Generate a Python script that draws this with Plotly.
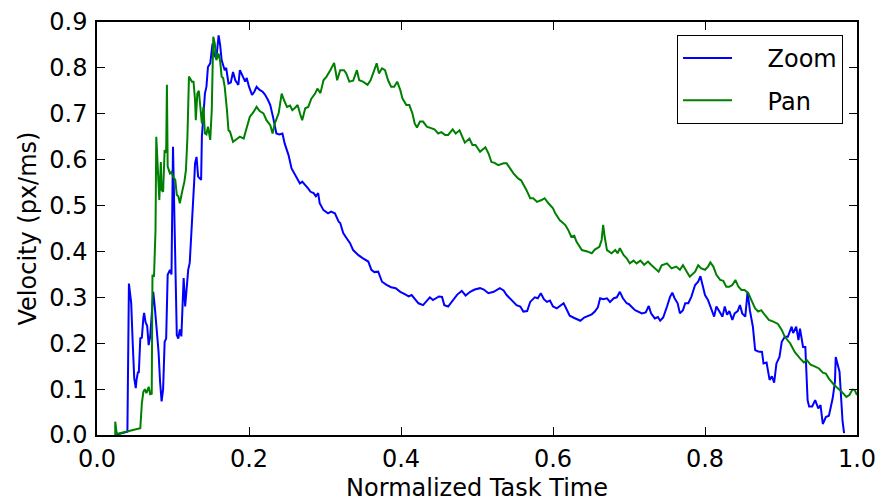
import plotly.graph_objects as go

# Zoom interaction: normalized task time vs. pointer velocity
zoom_time = [
    0.024, 0.040, 0.042, 0.045, 0.047, 0.049, 0.051, 0.052, 0.054, 0.055,
    0.057, 0.059, 0.061, 0.062, 0.064, 0.066, 0.068, 0.070, 0.072, 0.074,
    0.076, 0.079, 0.081, 0.083, 0.085, 0.087, 0.089, 0.091, 0.093, 0.096,
    0.098, 0.100, 0.101, 0.103, 0.105, 0.107, 0.109, 0.111, 0.114, 0.116,
    0.118, 0.120, 0.122, 0.125, 0.127, 0.128, 0.129, 0.131, 0.133, 0.137,
    0.138, 0.142, 0.144, 0.146, 0.149, 0.152, 0.154, 0.157, 0.160, 0.162,
    0.164, 0.166, 0.168, 0.170, 0.173, 0.176, 0.179, 0.182, 0.186, 0.188,
    0.191, 0.195, 0.197, 0.200, 0.204, 0.207, 0.210, 0.214, 0.218, 0.221,
    0.225, 0.228, 0.232, 0.236, 0.240, 0.244, 0.247, 0.252, 0.256, 0.260,
    0.263, 0.267, 0.270, 0.274, 0.278, 0.281, 0.285, 0.288, 0.291, 0.293,
    0.298, 0.304, 0.308, 0.313, 0.318, 0.320, 0.324, 0.328, 0.333, 0.337,
    0.344, 0.350, 0.357, 0.361, 0.365, 0.370, 0.375, 0.381, 0.387, 0.393,
    0.399, 0.405, 0.410, 0.414, 0.418, 0.423, 0.429, 0.434, 0.438, 0.442,
    0.447, 0.450, 0.454, 0.457, 0.462, 0.469, 0.474, 0.480, 0.485, 0.491,
    0.497, 0.504, 0.509, 0.515, 0.522, 0.530, 0.535, 0.539, 0.546, 0.552,
    0.557, 0.561, 0.566, 0.570, 0.576, 0.580, 0.584, 0.588, 0.592, 0.596,
    0.600, 0.605, 0.614, 0.618, 0.622, 0.628, 0.636, 0.641, 0.646, 0.651,
    0.655, 0.659, 0.662, 0.666, 0.671, 0.675, 0.680, 0.684, 0.688, 0.692,
    0.697, 0.700, 0.703, 0.708, 0.717, 0.722, 0.726, 0.729, 0.734, 0.738,
    0.741, 0.745, 0.750, 0.754, 0.757, 0.760, 0.764, 0.767, 0.771, 0.774,
    0.778, 0.782, 0.787, 0.791, 0.794, 0.797, 0.800, 0.804, 0.809, 0.812,
    0.815, 0.819, 0.823, 0.826, 0.829, 0.832, 0.836, 0.839, 0.843, 0.846,
    0.849, 0.853, 0.855, 0.856, 0.859, 0.863, 0.866, 0.870, 0.875, 0.877,
    0.881, 0.885, 0.888, 0.891, 0.894, 0.898, 0.901, 0.905, 0.909, 0.914,
    0.916, 0.920, 0.923, 0.925, 0.929, 0.932, 0.935, 0.937, 0.941, 0.945,
    0.949, 0.952, 0.955, 0.959, 0.963, 0.968, 0.971, 0.972, 0.977, 0.980,
    0.981, 0.983,
]
zoom_velocity = [
    0.000, 0.007, 0.330, 0.288, 0.200, 0.124, 0.102, 0.120, 0.138, 0.135,
    0.211, 0.212, 0.255, 0.266, 0.245, 0.238, 0.196, 0.215, 0.262, 0.312,
    0.280, 0.230, 0.181, 0.116, 0.073, 0.100, 0.203, 0.210, 0.349, 0.360,
    0.350, 0.628, 0.540, 0.400, 0.218, 0.210, 0.230, 0.215, 0.342, 0.280,
    0.330, 0.360, 0.375, 0.454, 0.512, 0.556, 0.592, 0.606, 0.563, 0.556,
    0.650, 0.744, 0.759, 0.802, 0.810, 0.853, 0.830, 0.820, 0.871, 0.850,
    0.817, 0.806, 0.795, 0.800, 0.766, 0.768, 0.791, 0.773, 0.763, 0.795,
    0.785, 0.770, 0.778, 0.759, 0.741, 0.748, 0.759, 0.752, 0.748, 0.742,
    0.730, 0.719, 0.690, 0.657, 0.655, 0.657, 0.635, 0.610, 0.581, 0.570,
    0.560, 0.548, 0.552, 0.545, 0.537, 0.530, 0.527, 0.520, 0.527, 0.505,
    0.490, 0.483, 0.487, 0.483, 0.465, 0.462, 0.440, 0.430, 0.418, 0.403,
    0.392, 0.385, 0.378, 0.360, 0.355, 0.356, 0.334, 0.327, 0.322, 0.320,
    0.312, 0.307, 0.302, 0.305, 0.296, 0.287, 0.283, 0.292, 0.300, 0.294,
    0.298, 0.302, 0.301, 0.283, 0.280, 0.294, 0.306, 0.314, 0.304, 0.312,
    0.317, 0.320, 0.317, 0.309, 0.312, 0.320, 0.315, 0.305, 0.294, 0.283,
    0.280, 0.269, 0.270, 0.290, 0.300, 0.298, 0.309, 0.296, 0.290, 0.293,
    0.280, 0.276, 0.287, 0.272, 0.260, 0.255, 0.249, 0.256, 0.259, 0.263,
    0.269, 0.278, 0.298, 0.296, 0.298, 0.290, 0.298, 0.300, 0.312, 0.298,
    0.287, 0.285, 0.280, 0.272, 0.265, 0.267, 0.281, 0.265, 0.254, 0.257,
    0.249, 0.256, 0.280, 0.301, 0.310, 0.298, 0.287, 0.265, 0.272, 0.287,
    0.287, 0.301, 0.327, 0.334, 0.346, 0.326, 0.305, 0.294, 0.272, 0.258,
    0.280, 0.270, 0.258, 0.280, 0.262, 0.270, 0.251, 0.265, 0.270, 0.283,
    0.265, 0.258, 0.300, 0.312, 0.272, 0.236, 0.185, 0.182, 0.181, 0.156,
    0.158, 0.120, 0.128, 0.114, 0.156, 0.170, 0.203, 0.214, 0.214, 0.236,
    0.222, 0.236, 0.207, 0.232, 0.192, 0.192, 0.076, 0.062, 0.062, 0.076,
    0.058, 0.065, 0.024, 0.039, 0.042, 0.080, 0.116, 0.170, 0.138, 0.033,
    0.030, 0.004,
]

# Pan interaction
pan_time = [
    0.024, 0.024, 0.026, 0.057, 0.059, 0.061, 0.063, 0.065, 0.068, 0.070,
    0.072, 0.073, 0.075, 0.076, 0.077, 0.078, 0.080, 0.082, 0.084, 0.085,
    0.087, 0.089, 0.091, 0.092, 0.093, 0.096, 0.098, 0.100, 0.103, 0.105,
    0.107, 0.109, 0.112, 0.115, 0.117, 0.119, 0.121, 0.125, 0.127, 0.129,
    0.130, 0.132, 0.134, 0.136, 0.138, 0.140, 0.142, 0.144, 0.146, 0.149,
    0.151, 0.153, 0.155, 0.157, 0.160, 0.162, 0.164, 0.166, 0.168, 0.171,
    0.173, 0.175, 0.179, 0.184, 0.188, 0.193, 0.197, 0.201, 0.206, 0.210,
    0.214, 0.219, 0.223, 0.228, 0.231, 0.234, 0.239, 0.243, 0.246, 0.250,
    0.254, 0.257, 0.260, 0.264, 0.267, 0.270, 0.274, 0.278, 0.282, 0.287,
    0.290, 0.294, 0.298, 0.302, 0.307, 0.312, 0.316, 0.320, 0.325, 0.328,
    0.332, 0.337, 0.342, 0.345, 0.350, 0.356, 0.360, 0.364, 0.368, 0.371,
    0.375, 0.379, 0.383, 0.387, 0.391, 0.395, 0.399, 0.402, 0.407, 0.411,
    0.415, 0.418, 0.421, 0.425, 0.429, 0.434, 0.440, 0.444, 0.449, 0.453,
    0.458, 0.462, 0.468, 0.472, 0.477, 0.481, 0.484, 0.490, 0.494, 0.498,
    0.504, 0.511, 0.515, 0.519, 0.523, 0.528, 0.535, 0.539, 0.543, 0.548,
    0.554, 0.558, 0.565, 0.570, 0.574, 0.579, 0.585, 0.589, 0.594, 0.600,
    0.603, 0.609, 0.616, 0.620, 0.624, 0.628, 0.631, 0.638, 0.645, 0.651,
    0.655, 0.661, 0.664, 0.666, 0.668, 0.671, 0.677, 0.682, 0.685, 0.688,
    0.693, 0.697, 0.701, 0.706, 0.710, 0.715, 0.720, 0.725, 0.729, 0.734,
    0.739, 0.743, 0.750, 0.756, 0.762, 0.767, 0.771, 0.776, 0.780, 0.787,
    0.791, 0.795, 0.800, 0.804, 0.807, 0.811, 0.815, 0.820, 0.824, 0.828,
    0.832, 0.836, 0.840, 0.844, 0.848, 0.852, 0.857, 0.861, 0.866, 0.870,
    0.874, 0.879, 0.884, 0.890, 0.896, 0.901, 0.905, 0.912, 0.918, 0.925,
    0.930, 0.934, 0.939, 0.945, 0.950, 0.955, 0.959, 0.963, 0.970, 0.980,
    0.986, 0.990, 0.994, 0.997, 1.000,
]
pan_velocity = [
    0.000, 0.029, 0.002, 0.015, 0.069, 0.094, 0.100, 0.091, 0.105, 0.089,
    0.090, 0.349, 0.345, 0.403, 0.447, 0.650, 0.577, 0.512, 0.595, 0.534,
    0.530, 0.621, 0.615, 0.763, 0.585, 0.570, 0.573, 0.563, 0.556, 0.523,
    0.520, 0.505, 0.530, 0.552, 0.577, 0.650, 0.781, 0.770, 0.770, 0.730,
    0.686, 0.744, 0.750, 0.708, 0.679, 0.715, 0.657, 0.655, 0.672, 0.643,
    0.708, 0.868, 0.853, 0.817, 0.831, 0.815, 0.781, 0.778, 0.759, 0.708,
    0.664, 0.661, 0.639, 0.645, 0.650, 0.646, 0.672, 0.693, 0.704, 0.715,
    0.706, 0.701, 0.686, 0.675, 0.657, 0.679, 0.701, 0.744, 0.730, 0.715,
    0.718, 0.708, 0.712, 0.719, 0.701, 0.686, 0.712, 0.715, 0.733, 0.744,
    0.755, 0.745, 0.773, 0.781, 0.795, 0.811, 0.773, 0.795, 0.795, 0.788,
    0.770, 0.772, 0.795, 0.773, 0.770, 0.763, 0.773, 0.791, 0.810, 0.788,
    0.799, 0.795, 0.773, 0.759, 0.759, 0.770, 0.752, 0.733, 0.719, 0.719,
    0.701, 0.679, 0.670, 0.683, 0.683, 0.672, 0.668, 0.666, 0.657, 0.660,
    0.654, 0.654, 0.666, 0.657, 0.664, 0.650, 0.637, 0.646, 0.632, 0.632,
    0.617, 0.627, 0.614, 0.595, 0.593, 0.588, 0.592, 0.592, 0.581, 0.570,
    0.559, 0.555, 0.534, 0.516, 0.516, 0.508, 0.512, 0.516, 0.505, 0.494,
    0.483, 0.468, 0.458, 0.447, 0.432, 0.434, 0.421, 0.403, 0.400, 0.396,
    0.404, 0.410, 0.425, 0.458, 0.432, 0.403, 0.396, 0.403, 0.396, 0.407,
    0.392, 0.385, 0.374, 0.380, 0.374, 0.380, 0.371, 0.378, 0.371, 0.363,
    0.356, 0.370, 0.374, 0.363, 0.367, 0.360, 0.370, 0.356, 0.345, 0.356,
    0.370, 0.363, 0.360, 0.367, 0.376, 0.367, 0.349, 0.338, 0.336, 0.323,
    0.323, 0.327, 0.338, 0.323, 0.316, 0.316, 0.309, 0.294, 0.276, 0.269,
    0.272, 0.261, 0.251, 0.247, 0.242, 0.229, 0.214, 0.200, 0.181, 0.167,
    0.158, 0.163, 0.153, 0.149, 0.145, 0.136, 0.134, 0.123, 0.109, 0.094,
    0.083, 0.087, 0.099, 0.098, 0.087,
]

x_ticks = [0.0, 0.2, 0.4, 0.6, 0.8, 1.0]
y_ticks = [0.0, 0.1, 0.2, 0.3, 0.4, 0.5, 0.6, 0.7, 0.8, 0.9]

FONT = "DejaVu Sans"
SIZE = 24
# non-breaking spaces open a gap between legend line and label
GAP = "\u00a0" * 4

fig = go.Figure()
fig.add_trace(go.Scatter(
    x=zoom_time, y=zoom_velocity, mode="lines", name=GAP + "Zoom",
    line=dict(color="#0000ff", width=2), legendgroup="zoom",
))
fig.add_trace(go.Scatter(
    x=pan_time, y=pan_velocity, mode="lines", name=GAP + "Pan",
    line=dict(color="#008000", width=2), legendgroup="pan",
))

axis_common = dict(
    showline=True, linecolor="black", linewidth=1.5, mirror="ticks",
    ticks="inside", ticklen=8, tickwidth=1, tickcolor="black",
    showgrid=False, zeroline=False, automargin=False,
    tickfont=dict(family=FONT, size=SIZE, color="black"),
)

fig.update_layout(
    width=883, height=504,
    margin=dict(l=97, r=26, t=22, b=69, pad=0),
    paper_bgcolor="white", plot_bgcolor="white",
    font=dict(family=FONT, size=SIZE, color="black"),
    xaxis=dict(
        range=[0, 1], tickvals=x_ticks, tickformat=".1f",
        ticklabelstandoff=1,
        title=dict(text="Normalized Task Time", standoff=8,
                   font=dict(family=FONT, size=SIZE)),
        **axis_common,
    ),
    yaxis=dict(
        range=[0, 0.9], tickvals=y_ticks, tickformat=".1f",
        ticklabelstandoff=3,
        title=dict(text="Velocity (px/ms)", standoff=6,
                   font=dict(family=FONT, size=SIZE)),
        **axis_common,
    ),
    legend=dict(
        x=0.9816, y=0.9685, xanchor="right", yanchor="top",
        bordercolor="black", borderwidth=1, bgcolor="white",
        font=dict(family=FONT, size=SIZE),
        itemwidth=49, traceorder="grouped", tracegroupgap=8,
    ),
    showlegend=True,
)

fig.write_html("out.html")
